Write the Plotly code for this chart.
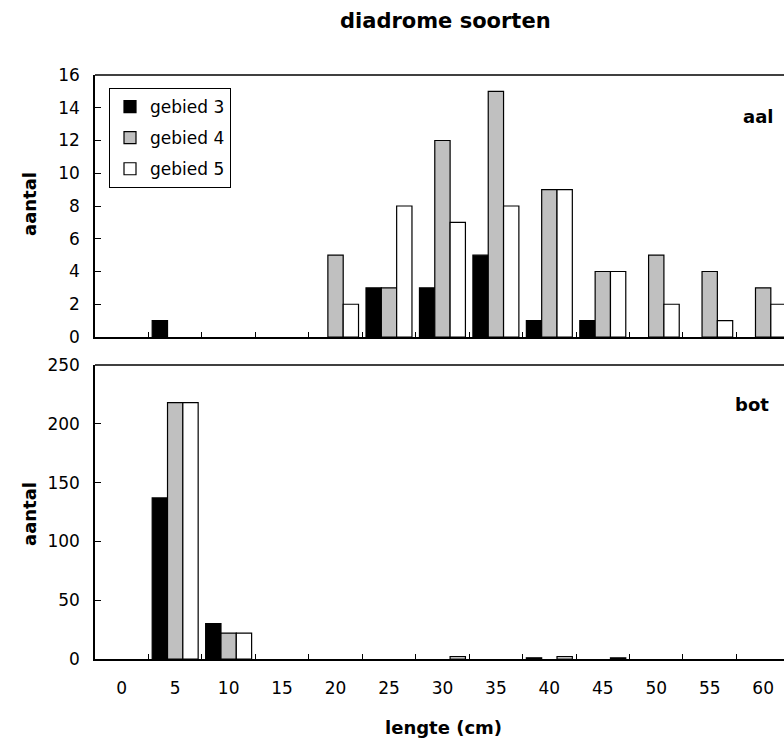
import plotly.graph_objects as go

categories = ["0", "5", "10", "15", "20", "25", "30", "35", "40", "45", "50", "55", "60"]
series_names = ["gebied 3", "gebied 4", "gebied 5"]

aal_gebied3 = [0, 1, 0, 0, 0, 3, 3, 5, 1, 1, 0, 0, 0]
aal_gebied4 = [0, 0, 0, 0, 5, 3, 12, 15, 9, 4, 5, 4, 3]
aal_gebied5 = [0, 0, 0, 0, 2, 8, 7, 8, 9, 4, 2, 1, 2]

bot_gebied3 = [0, 137, 30, 0, 0, 0, 0, 0, 1, 0, 0, 0, 0]
bot_gebied4 = [0, 218, 22, 0, 0, 0, 0, 0, 0, 0, 0, 0, 0]
bot_gebied5 = [0, 218, 22, 0, 0, 0, 2, 0, 2, 1, 0, 0, 0]

colors = ["#000000", "#C0C0C0", "#FFFFFF"]
FONT = "DejaVu Sans"

def nonzero(vals):
    xs = [c for c, v in zip(categories, vals) if v]
    ys = [v for v in vals if v]
    return xs, ys

fig = go.Figure()
for name, vals, col in zip(series_names, [aal_gebied3, aal_gebied4, aal_gebied5], colors):
    xs, ys = nonzero(vals)
    fig.add_trace(go.Bar(x=xs, y=ys, name=name,
                         marker=dict(color=col, line=dict(color="black", width=1.2)),
                         xaxis="x", yaxis="y", legendgroup=name, showlegend=True))
for name, vals, col in zip(series_names, [bot_gebied3, bot_gebied4, bot_gebied5], colors):
    xs, ys = nonzero(vals)
    fig.add_trace(go.Bar(x=xs, y=ys, name=name,
                         marker=dict(color=col, line=dict(color="black", width=1.2)),
                         xaxis="x2", yaxis="y2", legendgroup=name, showlegend=False))

W, H = 784, 746
L, R, T, B = 95, 0, 75, 87
pw, ph = W - L - R, H - T - B

def px(x):
    return (x - L) / pw

def py(y):
    return (H - B - y) / ph

xcommon = dict(type="category", categoryorder="array", categoryarray=categories,
               range=[-0.5, 12.39], showline=True, linecolor="black", linewidth=1.5,
               ticks="inside", tickson="boundaries", ticklen=5, tickcolor="black", tickwidth=1,
               showgrid=False, zeroline=False, fixedrange=True)
ycommon = dict(showline=True, linecolor="black", linewidth=1.5, ticks="inside", ticklen=6,
               tickcolor="black", tickwidth=1, showgrid=False, zeroline=False,
               tickfont=dict(family=FONT, size=17, color="black"), ticklabelstandoff=10)

top_dom = [py(337), 1]
bot_dom = [0, py(365)]

fig.update_layout(
    width=W, height=H, margin=dict(l=L, r=R, t=T, b=B, pad=0),
    paper_bgcolor="white", plot_bgcolor="white",
    barmode="group", bargap=0.14, bargroupgap=0,
    font=dict(family=FONT, size=17, color="black"),
    xaxis=dict(xcommon, anchor="y", showticklabels=False),
    xaxis2=dict(xcommon, anchor="y2", showticklabels=True, ticklabelstandoff=13,
                tickfont=dict(family=FONT, size=17, color="black")),
    yaxis=dict(ycommon, domain=top_dom, range=[0, 16], dtick=2, anchor="x"),
    yaxis2=dict(ycommon, domain=bot_dom, range=[0, 250], dtick=50, anchor="x2"),
    legend=dict(x=px(109), y=py(88), xanchor="left", yanchor="top", bordercolor="black", borderwidth=1,
                bgcolor="white", font=dict(family=FONT, size=17, color="black"), tracegroupgap=6,
                traceorder="grouped", itemwidth=30),
    showlegend=True,
)

fig.add_shape(type="line", xref="paper", yref="y domain", x0=0, x1=1, y0=1, y1=1,
              line=dict(color="black", width=1.5))
fig.add_shape(type="line", xref="paper", yref="y2 domain", x0=0, x1=1, y0=1, y1=1,
              line=dict(color="black", width=1.5))

def ann(text, x, y, size, angle=0):
    fig.add_annotation(text=text, xref="paper", yref="paper", x=px(x), y=py(y), showarrow=False,
                       xanchor="center", yanchor="middle", textangle=angle,
                       font=dict(family=FONT, size=size, color="black", weight="bold"))

ann("diadrome soorten", 445, 21, 21)
ann("aal", 758, 117, 18)
ann("bot", 752, 404, 18)
ann("lengte (cm)", 443, 727, 18)
ann("aantal", 29, 204, 18, -90)
ann("aantal", 29, 514, 18, -90)

fig.write_html("out.html")
